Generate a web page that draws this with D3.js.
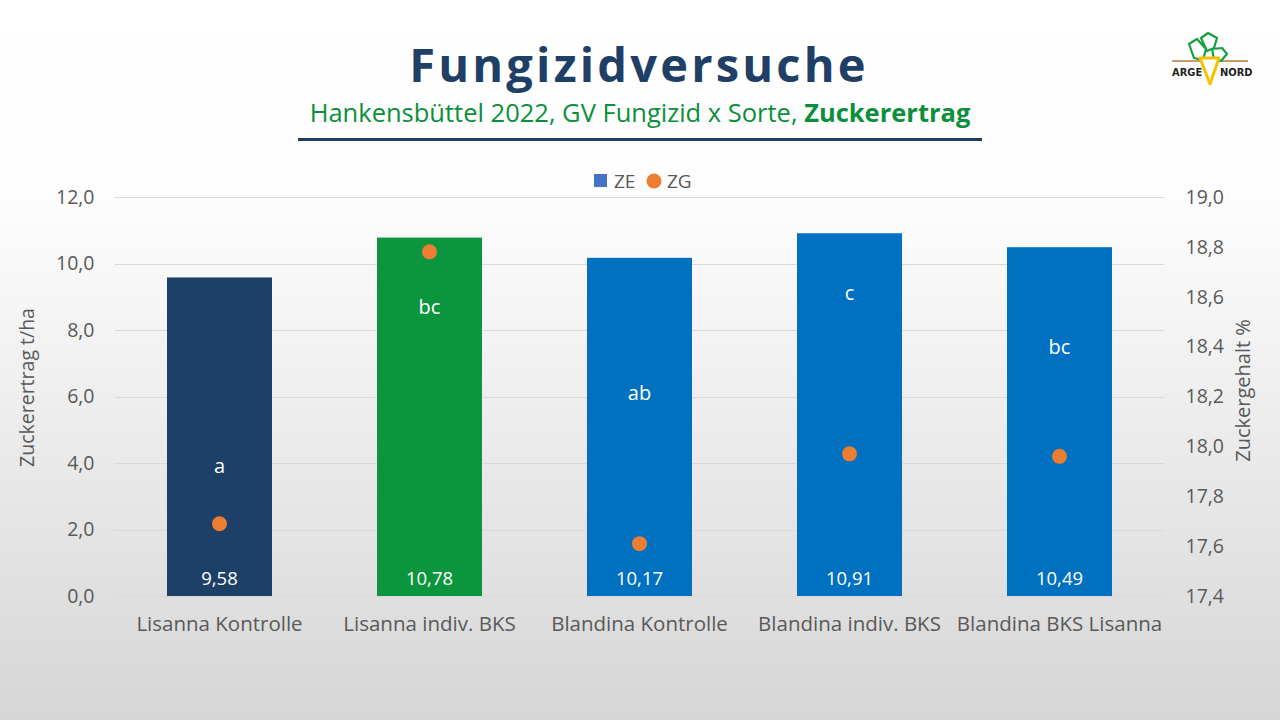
<!DOCTYPE html>
<html>
<head>
<meta charset="utf-8">
<script src="https://cdn.jsdelivr.net/npm/d3@7"></script>
<style>
  body { margin: 0; overflow: hidden; }
  svg { display: block; font-family: "Open Sans", "Noto Sans", sans-serif; }
</style>
</head>
<body>
<svg id="vis" width="1280" height="720"></svg>
<script>
// chart data
var categories = ["Lisanna Kontrolle", "Lisanna indiv. BKS", "Blandina Kontrolle", "Blandina indiv. BKS", "Blandina BKS Lisanna"];
var zeValues = [9.58, 10.78, 10.17, 10.91, 10.49];
var zgValues = [17.69, 18.78, 17.61, 17.97, 17.96];
var letters = ["a", "bc", "ab", "c", "bc"];
var letterLevels = [3.9, 8.7, 6.1, 9.1, 7.5];   // where the letters sit, in t/ha
var barColors = ["#1d4068", "#0b953e", "#0070c0", "#0070c0", "#0070c0"];
var leftTicks = [0, 2, 4, 6, 8, 10, 12];
var rightTicks = [17.4, 17.6, 17.8, 18.0, 18.2, 18.4, 18.6, 18.8, 19.0];

var W = 1280, H = 720;
var margin = {left: 114.5, right: 115.5, top: 197, bottom: 124};
var svg = d3.select("#vis");

var defs = svg.append("defs");
var grad = defs.append("linearGradient").attr("id", "bg")
  .attr("x1", 0).attr("y1", 0).attr("x2", 0).attr("y2", 1);
grad.append("stop").attr("offset", "0%").attr("stop-color", "#ffffff");
grad.append("stop").attr("offset", "28%").attr("stop-color", "#fdfdfd");
grad.append("stop").attr("offset", "100%").attr("stop-color", "#d6d6d6");
svg.append("rect").attr("width", W).attr("height", H).attr("fill", "url(#bg)");

// title block
svg.append("text").attr("x", 639).attr("y", 82).attr("text-anchor", "middle")
  .attr("fill", "#1f3f66").attr("font-size", 47).attr("font-weight", 700)
  .attr("letter-spacing", 3.2).text("Fungizidversuche");

var sub = svg.append("text").attr("x", 640).attr("y", 122).attr("text-anchor", "middle")
  .attr("fill", "#0b8f3b").attr("font-size", 25.5);
sub.append("tspan").text("Hankensbüttel 2022, GV Fungizid x Sorte, ");
sub.append("tspan").attr("font-weight", 700).text("Zuckerertrag");

svg.append("line").attr("x1", 298).attr("x2", 982).attr("y1", 139.5).attr("y2", 139.5)
  .attr("stroke", "#1f3f66").attr("stroke-width", 3);

// logo (rough sketch)
var logo = svg.append("g").attr("transform", "translate(1170,32)");
logo.append("line").attr("x1", 2).attr("x2", 78).attr("y1", 29).attr("y2", 29)
  .attr("stroke", "#b87a35").attr("stroke-width", 1.5);
logo.append("path").attr("d", "M19,12 L27,7 L36,17 L33,28 L24,26 Z M31,6 L38,1 L47,6 L44,16 L37,19 Z M42,17 L52,16 L57,22 L51,29 L44,27 Z")
  .attr("fill", "#ffffff").attr("stroke", "#14a03e").attr("stroke-width", 2.2).attr("stroke-linejoin", "round");
logo.append("path").attr("d", "M30,26 L49,26 L40,52 Z")
  .attr("fill", "#ffffff").attr("stroke", "#f2c300").attr("stroke-width", 3).attr("stroke-linejoin", "round");
logo.append("text").attr("x", 2).attr("y", 44).attr("font-size", 11).attr("font-weight", 700)
  .attr("font-family", "DejaVu Sans Condensed, sans-serif").attr("fill", "#222").text("ARGE");
logo.append("text").attr("x", 50).attr("y", 44).attr("font-size", 11).attr("font-weight", 700)
  .attr("font-family", "DejaVu Sans Condensed, sans-serif").attr("fill", "#222").text("NORD");

// scales
var x = d3.scaleBand().domain(categories).range([margin.left, W - margin.right]).paddingInner(0.5).paddingOuter(0.25);
var yL = d3.scaleLinear().domain([0, 12]).range([H - margin.bottom, margin.top]);
var yR = d3.scaleLinear().domain([17.4, 19.0]).range([H - margin.bottom, margin.top]);
var fmt = function(v) { return d3.format(".1f")(v).replace(".", ","); };

// gridlines
svg.append("g").selectAll("line").data(leftTicks).join("line")
  .attr("x1", margin.left).attr("x2", W - margin.right)
  .attr("y1", function(d) { return Math.round(yL(d)) + 0.5; })
  .attr("y2", function(d) { return Math.round(yL(d)) + 0.5; })
  .attr("stroke", "#d9d9d9").attr("stroke-width", 1);

// axes
var axisL = svg.append("g").attr("transform", "translate(" + margin.left + ",0)")
  .call(d3.axisLeft(yL).tickValues(leftTicks).tickFormat(fmt).tickSize(0).tickPadding(20));
var axisR = svg.append("g").attr("transform", "translate(" + (W - margin.right) + ",0)")
  .call(d3.axisRight(yR).tickValues(rightTicks).tickFormat(fmt).tickSize(0).tickPadding(21));
var axisX = svg.append("g").attr("transform", "translate(0," + (H - margin.bottom) + ")")
  .call(d3.axisBottom(x).tickSize(0).tickPadding(20));
[axisL, axisR].forEach(function(a) {
  a.select(".domain").remove();
  a.selectAll("text").attr("fill", "#595959").attr("font-size", 19.5).attr("font-family", "Open Sans, sans-serif");
});
axisX.select(".domain").remove();
axisX.selectAll("text").attr("fill", "#595959").attr("font-size", 20.5).attr("font-family", "Open Sans, sans-serif");

// axis titles
svg.append("text").attr("transform", "translate(34," + (yL(6) - 9) + ") rotate(-90)")
  .attr("text-anchor", "middle").attr("fill", "#595959").attr("font-size", 19.5).text("Zuckerertrag t/ha");
svg.append("text").attr("transform", "translate(1250," + (yL(6) - 6) + ") rotate(-90)")
  .attr("text-anchor", "middle").attr("fill", "#595959").attr("font-size", 20).text("Zuckergehalt %");

// bars
svg.append("g").selectAll("rect").data(zeValues).join("rect")
  .attr("x", function(d, i) { return x(categories[i]); })
  .attr("width", x.bandwidth())
  .attr("y", function(d) { return yL(d); })
  .attr("height", function(d) { return yL(0) - yL(d); })
  .attr("fill", function(d, i) { return barColors[i]; });

// value labels at bar base
svg.append("g").selectAll("text").data(zeValues).join("text")
  .attr("x", function(d, i) { return x(categories[i]) + x.bandwidth() / 2; })
  .attr("y", yL(0) - 11)
  .attr("text-anchor", "middle").attr("fill", "#ffffff").attr("font-size", 18.5)
  .text(function(d) { return d3.format(".2f")(d).replace(".", ","); });

// significance letters
svg.append("g").selectAll("text").data(letters).join("text")
  .attr("x", function(d, i) { return x(categories[i]) + x.bandwidth() / 2; })
  .attr("y", function(d, i) { return yL(letterLevels[i]) + 7; })
  .attr("text-anchor", "middle").attr("fill", "#ffffff").attr("font-size", 20)
  .text(function(d) { return d; });

// ZG dots
svg.append("g").selectAll("circle").data(zgValues).join("circle")
  .attr("cx", function(d, i) { return x(categories[i]) + x.bandwidth() / 2; })
  .attr("cy", function(d) { return yR(d); })
  .attr("r", 7.5).attr("fill", "#ed7d31");

// legend
var lg = svg.append("g").attr("transform", "translate(594,173)");
lg.append("rect").attr("x", 0).attr("y", 1).attr("width", 13).attr("height", 13).attr("fill", "#4472c4");
lg.append("text").attr("x", 20).attr("y", 15).attr("fill", "#595959").attr("font-size", 19).text("ZE");
lg.append("circle").attr("cx", 60).attr("cy", 8).attr("r", 7.5).attr("fill", "#ed7d31");
lg.append("text").attr("x", 73).attr("y", 15).attr("fill", "#595959").attr("font-size", 19).text("ZG");
</script>
</body>
</html>
